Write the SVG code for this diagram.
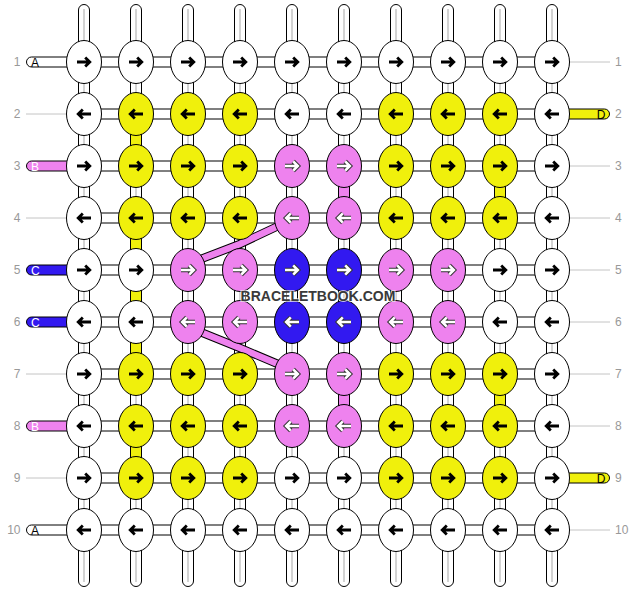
<svg xmlns="http://www.w3.org/2000/svg" xmlns:xlink="http://www.w3.org/1999/xlink" width="636" height="592" viewBox="0 0 636 592">
<style>
.vb{fill:#fff;stroke:#000;stroke-width:1}
.gl{stroke:#c4c4c4;stroke-width:1.5}
.hb{fill:#fff;stroke:#000;stroke-width:1}
.seg{stroke:#000;stroke-width:1}
.n ellipse{stroke:#000;stroke-width:1}
.w{fill:#fff}.y{fill:#f0f00c}.p{fill:#ee82ee}.b{fill:#3219f0}
.lb{font-family:"Liberation Sans",Arial,sans-serif;font-size:12px;fill:#999}
.lt{font-family:"Liberation Sans",Arial,sans-serif;font-size:12px}
.gline{stroke:#c4c4c4;stroke-width:1}
.pill{stroke:#000;stroke-width:1}
.band1{fill:none;stroke:#000;stroke-width:8.5}
.band2{fill:none;stroke:#ee82ee;stroke-width:6.5}
.wm{font-family:"Liberation Sans",Arial,sans-serif;font-size:14px;font-weight:bold;fill:#3a3a3a;stroke:#fff;stroke-opacity:0.7;stroke-width:2;paint-order:stroke}
</style>
<defs>
<path id="ap" d="M-7 0H5.5M1.2-4.6L5.8 0 1.2 4.6" fill="none"/>
<g id="R"><use xlink:href="#ap" href="#ap" stroke="#000" stroke-width="2.8"/></g>
<g id="L"><use xlink:href="#R" href="#R" transform="scale(-1,1)"/></g>
<g id="RW"><use xlink:href="#ap" href="#ap" stroke="#333" stroke-width="4.6"/><use xlink:href="#ap" href="#ap" stroke="#fff" stroke-width="2.6"/></g>
<g id="LW"><use xlink:href="#RW" href="#RW" transform="scale(-1,1)"/></g>
</defs>
<rect width="636" height="592" fill="#fff"/>

<g id="connectors">
<g id="verticals">
<rect class="vb" x="78.5" y="4.5" width="11" height="582" rx="5.5"/>
<rect class="vb" x="130.5" y="4.5" width="11" height="582" rx="5.5"/>
<rect class="vb" x="182.5" y="4.5" width="11" height="582" rx="5.5"/>
<rect class="vb" x="234.5" y="4.5" width="11" height="582" rx="5.5"/>
<rect class="vb" x="286.5" y="4.5" width="11" height="582" rx="5.5"/>
<rect class="vb" x="338.5" y="4.5" width="11" height="582" rx="5.5"/>
<rect class="vb" x="390.5" y="4.5" width="11" height="582" rx="5.5"/>
<rect class="vb" x="442.5" y="4.5" width="11" height="582" rx="5.5"/>
<rect class="vb" x="494.5" y="4.5" width="11" height="582" rx="5.5"/>
<rect class="vb" x="546.5" y="4.5" width="11" height="582" rx="5.5"/>
<line class="gl" x1="84" y1="9" x2="84" y2="582"/>
<line class="gl" x1="136" y1="9" x2="136" y2="582"/>
<line class="gl" x1="188" y1="9" x2="188" y2="582"/>
<line class="gl" x1="240" y1="9" x2="240" y2="582"/>
<line class="gl" x1="292" y1="9" x2="292" y2="582"/>
<line class="gl" x1="344" y1="9" x2="344" y2="582"/>
<line class="gl" x1="396" y1="9" x2="396" y2="582"/>
<line class="gl" x1="448" y1="9" x2="448" y2="582"/>
<line class="gl" x1="500" y1="9" x2="500" y2="582"/>
<line class="gl" x1="552" y1="9" x2="552" y2="582"/>
<rect class="seg y" x="130.5" y="134" width="11" height="12"/>
<rect class="seg y" x="130.5" y="238" width="11" height="12"/>
<rect class="seg y" x="130.5" y="290" width="11" height="12"/>
<rect class="seg y" x="130.5" y="342" width="11" height="12"/>
<rect class="seg y" x="130.5" y="446" width="11" height="12"/>
<rect class="seg y" x="494.5" y="186" width="11" height="12"/>
<rect class="seg y" x="494.5" y="394" width="11" height="12"/>
<rect class="seg p" x="338.5" y="186" width="11" height="12"/>
<rect class="seg p" x="338.5" y="394" width="11" height="12"/>
</g>
<g id="horizontals">
<rect class="hb" x="84" y="57" width="468" height="10"/>
<rect class="hb" x="84" y="109" width="468" height="10"/>
<rect class="hb" x="84" y="161" width="468" height="10"/>
<rect class="hb" x="84" y="213" width="468" height="10"/>
<rect class="hb" x="84" y="265" width="468" height="10"/>
<rect class="hb" x="84" y="317" width="468" height="10"/>
<rect class="hb" x="84" y="369" width="468" height="10"/>
<rect class="hb" x="84" y="421" width="468" height="10"/>
<rect class="hb" x="84" y="473" width="468" height="10"/>
<rect class="hb" x="84" y="525" width="468" height="10"/>
</g>
<g id="side-threads">
<line class="gline" x1="26" y1="114" x2="67" y2="114"/>
<line class="gline" x1="26" y1="218" x2="67" y2="218"/>
<line class="gline" x1="26" y1="374" x2="67" y2="374"/>
<line class="gline" x1="26" y1="478" x2="67" y2="478"/>
<line class="gline" x1="569" y1="62" x2="610" y2="62"/>
<line class="gline" x1="569" y1="166" x2="610" y2="166"/>
<line class="gline" x1="569" y1="218" x2="610" y2="218"/>
<line class="gline" x1="569" y1="270" x2="610" y2="270"/>
<line class="gline" x1="569" y1="322" x2="610" y2="322"/>
<line class="gline" x1="569" y1="374" x2="610" y2="374"/>
<line class="gline" x1="569" y1="426" x2="610" y2="426"/>
<line class="gline" x1="569" y1="530" x2="610" y2="530"/>
<rect class="pill w" x="26.5" y="57" width="50" height="10" rx="5"/>
<rect class="pill p" x="26.5" y="161" width="50" height="10" rx="5"/>
<rect class="pill b" x="26.5" y="265" width="50" height="10" rx="5"/>
<rect class="pill b" x="26.5" y="317" width="50" height="10" rx="5"/>
<rect class="pill p" x="26.5" y="421" width="50" height="10" rx="5"/>
<rect class="pill w" x="26.5" y="525" width="50" height="10" rx="5"/>
<rect class="pill y" x="559.5" y="109" width="50" height="10" rx="5"/>
<rect class="pill y" x="559.5" y="473" width="50" height="10" rx="5"/>
<text class="lt" x="31" y="66.5" fill="#000">A</text>
<text class="lt" x="31" y="170.5" fill="#fff">B</text>
<text class="lt" x="31" y="274.5" fill="#fff">C</text>
<text class="lt" x="31" y="326.5" fill="#fff">C</text>
<text class="lt" x="31" y="430.5" fill="#fff">B</text>
<text class="lt" x="31" y="534.5" fill="#000">A</text>
<text class="lt" x="605.5" y="118.5" fill="#000" text-anchor="end">D</text>
<text class="lt" x="605.5" y="482.5" fill="#000" text-anchor="end">D</text>
</g>
<g id="bands">
<polyline class="band1" points="292,219.5 240,244 188,264"/>
<polyline class="band2" points="292,219.5 240,244 188,264"/>
<polyline class="band1" points="188,327 240,348 292,370"/>
<polyline class="band2" points="188,327 240,348 292,370"/>
</g>
</g>

<g id="row-labels">
<text class="lb" x="20.5" y="66" text-anchor="end">1</text>
<text class="lb" x="20.5" y="118" text-anchor="end">2</text>
<text class="lb" x="20.5" y="170" text-anchor="end">3</text>
<text class="lb" x="20.5" y="222" text-anchor="end">4</text>
<text class="lb" x="20.5" y="274" text-anchor="end">5</text>
<text class="lb" x="20.5" y="326" text-anchor="end">6</text>
<text class="lb" x="20.5" y="378" text-anchor="end">7</text>
<text class="lb" x="20.5" y="430" text-anchor="end">8</text>
<text class="lb" x="20.5" y="482" text-anchor="end">9</text>
<text class="lb" x="20.5" y="534" text-anchor="end">10</text>
<text class="lb" x="615" y="66">1</text>
<text class="lb" x="615" y="118">2</text>
<text class="lb" x="615" y="170">3</text>
<text class="lb" x="615" y="222">4</text>
<text class="lb" x="615" y="274">5</text>
<text class="lb" x="615" y="326">6</text>
<text class="lb" x="615" y="378">7</text>
<text class="lb" x="615" y="430">8</text>
<text class="lb" x="615" y="482">9</text>
<text class="lb" x="615" y="534">10</text>
</g>

<g id="nodes">
<g id="n1-1" class="n" transform="translate(84,62)"><ellipse class="w" rx="17.5" ry="21.5"/><use href="#R"/></g>
<g id="n1-2" class="n" transform="translate(136,62)"><ellipse class="w" rx="17.5" ry="21.5"/><use href="#R"/></g>
<g id="n1-3" class="n" transform="translate(188,62)"><ellipse class="w" rx="17.5" ry="21.5"/><use href="#R"/></g>
<g id="n1-4" class="n" transform="translate(240,62)"><ellipse class="w" rx="17.5" ry="21.5"/><use href="#R"/></g>
<g id="n1-5" class="n" transform="translate(292,62)"><ellipse class="w" rx="17.5" ry="21.5"/><use href="#R"/></g>
<g id="n1-6" class="n" transform="translate(344,62)"><ellipse class="w" rx="17.5" ry="21.5"/><use href="#R"/></g>
<g id="n1-7" class="n" transform="translate(396,62)"><ellipse class="w" rx="17.5" ry="21.5"/><use href="#R"/></g>
<g id="n1-8" class="n" transform="translate(448,62)"><ellipse class="w" rx="17.5" ry="21.5"/><use href="#R"/></g>
<g id="n1-9" class="n" transform="translate(500,62)"><ellipse class="w" rx="17.5" ry="21.5"/><use href="#R"/></g>
<g id="n1-10" class="n" transform="translate(552,62)"><ellipse class="w" rx="17.5" ry="21.5"/><use href="#R"/></g>

<g id="n2-1" class="n" transform="translate(84,114)"><ellipse class="w" rx="17.5" ry="21.5"/><use href="#L"/></g>
<g id="n2-2" class="n" transform="translate(136,114)"><ellipse class="y" rx="17.5" ry="21.5"/><use href="#L"/></g>
<g id="n2-3" class="n" transform="translate(188,114)"><ellipse class="y" rx="17.5" ry="21.5"/><use href="#L"/></g>
<g id="n2-4" class="n" transform="translate(240,114)"><ellipse class="y" rx="17.5" ry="21.5"/><use href="#L"/></g>
<g id="n2-5" class="n" transform="translate(292,114)"><ellipse class="w" rx="17.5" ry="21.5"/><use href="#L"/></g>
<g id="n2-6" class="n" transform="translate(344,114)"><ellipse class="w" rx="17.5" ry="21.5"/><use href="#L"/></g>
<g id="n2-7" class="n" transform="translate(396,114)"><ellipse class="y" rx="17.5" ry="21.5"/><use href="#L"/></g>
<g id="n2-8" class="n" transform="translate(448,114)"><ellipse class="y" rx="17.5" ry="21.5"/><use href="#L"/></g>
<g id="n2-9" class="n" transform="translate(500,114)"><ellipse class="y" rx="17.5" ry="21.5"/><use href="#L"/></g>
<g id="n2-10" class="n" transform="translate(552,114)"><ellipse class="w" rx="17.5" ry="21.5"/><use href="#L"/></g>

<g id="n3-1" class="n" transform="translate(84,166)"><ellipse class="w" rx="17.5" ry="21.5"/><use href="#R"/></g>
<g id="n3-2" class="n" transform="translate(136,166)"><ellipse class="y" rx="17.5" ry="21.5"/><use href="#R"/></g>
<g id="n3-3" class="n" transform="translate(188,166)"><ellipse class="y" rx="17.5" ry="21.5"/><use href="#R"/></g>
<g id="n3-4" class="n" transform="translate(240,166)"><ellipse class="y" rx="17.5" ry="21.5"/><use href="#R"/></g>
<g id="n3-5" class="n" transform="translate(292,166)"><ellipse class="p" rx="17.5" ry="21.5"/><use href="#RW"/></g>
<g id="n3-6" class="n" transform="translate(344,166)"><ellipse class="p" rx="17.5" ry="21.5"/><use href="#RW"/></g>
<g id="n3-7" class="n" transform="translate(396,166)"><ellipse class="y" rx="17.5" ry="21.5"/><use href="#R"/></g>
<g id="n3-8" class="n" transform="translate(448,166)"><ellipse class="y" rx="17.5" ry="21.5"/><use href="#R"/></g>
<g id="n3-9" class="n" transform="translate(500,166)"><ellipse class="y" rx="17.5" ry="21.5"/><use href="#R"/></g>
<g id="n3-10" class="n" transform="translate(552,166)"><ellipse class="w" rx="17.5" ry="21.5"/><use href="#R"/></g>

<g id="n4-1" class="n" transform="translate(84,218)"><ellipse class="w" rx="17.5" ry="21.5"/><use href="#L"/></g>
<g id="n4-2" class="n" transform="translate(136,218)"><ellipse class="y" rx="17.5" ry="21.5"/><use href="#L"/></g>
<g id="n4-3" class="n" transform="translate(188,218)"><ellipse class="y" rx="17.5" ry="21.5"/><use href="#L"/></g>
<g id="n4-4" class="n" transform="translate(240,218)"><ellipse class="y" rx="17.5" ry="21.5"/><use href="#L"/></g>
<g id="n4-5" class="n" transform="translate(292,218)"><ellipse class="p" rx="17.5" ry="21.5"/><use href="#LW"/></g>
<g id="n4-6" class="n" transform="translate(344,218)"><ellipse class="p" rx="17.5" ry="21.5"/><use href="#LW"/></g>
<g id="n4-7" class="n" transform="translate(396,218)"><ellipse class="y" rx="17.5" ry="21.5"/><use href="#L"/></g>
<g id="n4-8" class="n" transform="translate(448,218)"><ellipse class="y" rx="17.5" ry="21.5"/><use href="#L"/></g>
<g id="n4-9" class="n" transform="translate(500,218)"><ellipse class="y" rx="17.5" ry="21.5"/><use href="#L"/></g>
<g id="n4-10" class="n" transform="translate(552,218)"><ellipse class="w" rx="17.5" ry="21.5"/><use href="#L"/></g>

<g id="n5-1" class="n" transform="translate(84,270)"><ellipse class="w" rx="17.5" ry="21.5"/><use href="#R"/></g>
<g id="n5-2" class="n" transform="translate(136,270)"><ellipse class="w" rx="17.5" ry="21.5"/><use href="#R"/></g>
<g id="n5-3" class="n" transform="translate(188,270)"><ellipse class="p" rx="17.5" ry="21.5"/><use href="#RW"/></g>
<g id="n5-4" class="n" transform="translate(240,270)"><ellipse class="p" rx="17.5" ry="21.5"/><use href="#RW"/></g>
<g id="n5-5" class="n" transform="translate(292,270)"><ellipse class="b" rx="17.5" ry="21.5"/><use href="#RW"/></g>
<g id="n5-6" class="n" transform="translate(344,270)"><ellipse class="b" rx="17.5" ry="21.5"/><use href="#RW"/></g>
<g id="n5-7" class="n" transform="translate(396,270)"><ellipse class="p" rx="17.5" ry="21.5"/><use href="#RW"/></g>
<g id="n5-8" class="n" transform="translate(448,270)"><ellipse class="p" rx="17.5" ry="21.5"/><use href="#RW"/></g>
<g id="n5-9" class="n" transform="translate(500,270)"><ellipse class="w" rx="17.5" ry="21.5"/><use href="#R"/></g>
<g id="n5-10" class="n" transform="translate(552,270)"><ellipse class="w" rx="17.5" ry="21.5"/><use href="#R"/></g>

<g id="n6-1" class="n" transform="translate(84,322)"><ellipse class="w" rx="17.5" ry="21.5"/><use href="#L"/></g>
<g id="n6-2" class="n" transform="translate(136,322)"><ellipse class="w" rx="17.5" ry="21.5"/><use href="#L"/></g>
<g id="n6-3" class="n" transform="translate(188,322)"><ellipse class="p" rx="17.5" ry="21.5"/><use href="#LW"/></g>
<g id="n6-4" class="n" transform="translate(240,322)"><ellipse class="p" rx="17.5" ry="21.5"/><use href="#LW"/></g>
<g id="n6-5" class="n" transform="translate(292,322)"><ellipse class="b" rx="17.5" ry="21.5"/><use href="#LW"/></g>
<g id="n6-6" class="n" transform="translate(344,322)"><ellipse class="b" rx="17.5" ry="21.5"/><use href="#LW"/></g>
<g id="n6-7" class="n" transform="translate(396,322)"><ellipse class="p" rx="17.5" ry="21.5"/><use href="#LW"/></g>
<g id="n6-8" class="n" transform="translate(448,322)"><ellipse class="p" rx="17.5" ry="21.5"/><use href="#LW"/></g>
<g id="n6-9" class="n" transform="translate(500,322)"><ellipse class="w" rx="17.5" ry="21.5"/><use href="#L"/></g>
<g id="n6-10" class="n" transform="translate(552,322)"><ellipse class="w" rx="17.5" ry="21.5"/><use href="#L"/></g>

<g id="n7-1" class="n" transform="translate(84,374)"><ellipse class="w" rx="17.5" ry="21.5"/><use href="#R"/></g>
<g id="n7-2" class="n" transform="translate(136,374)"><ellipse class="y" rx="17.5" ry="21.5"/><use href="#R"/></g>
<g id="n7-3" class="n" transform="translate(188,374)"><ellipse class="y" rx="17.5" ry="21.5"/><use href="#R"/></g>
<g id="n7-4" class="n" transform="translate(240,374)"><ellipse class="y" rx="17.5" ry="21.5"/><use href="#R"/></g>
<g id="n7-5" class="n" transform="translate(292,374)"><ellipse class="p" rx="17.5" ry="21.5"/><use href="#RW"/></g>
<g id="n7-6" class="n" transform="translate(344,374)"><ellipse class="p" rx="17.5" ry="21.5"/><use href="#RW"/></g>
<g id="n7-7" class="n" transform="translate(396,374)"><ellipse class="y" rx="17.5" ry="21.5"/><use href="#R"/></g>
<g id="n7-8" class="n" transform="translate(448,374)"><ellipse class="y" rx="17.5" ry="21.5"/><use href="#R"/></g>
<g id="n7-9" class="n" transform="translate(500,374)"><ellipse class="y" rx="17.5" ry="21.5"/><use href="#R"/></g>
<g id="n7-10" class="n" transform="translate(552,374)"><ellipse class="w" rx="17.5" ry="21.5"/><use href="#R"/></g>

<g id="n8-1" class="n" transform="translate(84,426)"><ellipse class="w" rx="17.5" ry="21.5"/><use href="#L"/></g>
<g id="n8-2" class="n" transform="translate(136,426)"><ellipse class="y" rx="17.5" ry="21.5"/><use href="#L"/></g>
<g id="n8-3" class="n" transform="translate(188,426)"><ellipse class="y" rx="17.5" ry="21.5"/><use href="#L"/></g>
<g id="n8-4" class="n" transform="translate(240,426)"><ellipse class="y" rx="17.5" ry="21.5"/><use href="#L"/></g>
<g id="n8-5" class="n" transform="translate(292,426)"><ellipse class="p" rx="17.5" ry="21.5"/><use href="#LW"/></g>
<g id="n8-6" class="n" transform="translate(344,426)"><ellipse class="p" rx="17.5" ry="21.5"/><use href="#LW"/></g>
<g id="n8-7" class="n" transform="translate(396,426)"><ellipse class="y" rx="17.5" ry="21.5"/><use href="#L"/></g>
<g id="n8-8" class="n" transform="translate(448,426)"><ellipse class="y" rx="17.5" ry="21.5"/><use href="#L"/></g>
<g id="n8-9" class="n" transform="translate(500,426)"><ellipse class="y" rx="17.5" ry="21.5"/><use href="#L"/></g>
<g id="n8-10" class="n" transform="translate(552,426)"><ellipse class="w" rx="17.5" ry="21.5"/><use href="#L"/></g>

<g id="n9-1" class="n" transform="translate(84,478)"><ellipse class="w" rx="17.5" ry="21.5"/><use href="#R"/></g>
<g id="n9-2" class="n" transform="translate(136,478)"><ellipse class="y" rx="17.5" ry="21.5"/><use href="#R"/></g>
<g id="n9-3" class="n" transform="translate(188,478)"><ellipse class="y" rx="17.5" ry="21.5"/><use href="#R"/></g>
<g id="n9-4" class="n" transform="translate(240,478)"><ellipse class="y" rx="17.5" ry="21.5"/><use href="#R"/></g>
<g id="n9-5" class="n" transform="translate(292,478)"><ellipse class="w" rx="17.5" ry="21.5"/><use href="#R"/></g>
<g id="n9-6" class="n" transform="translate(344,478)"><ellipse class="w" rx="17.5" ry="21.5"/><use href="#R"/></g>
<g id="n9-7" class="n" transform="translate(396,478)"><ellipse class="y" rx="17.5" ry="21.5"/><use href="#R"/></g>
<g id="n9-8" class="n" transform="translate(448,478)"><ellipse class="y" rx="17.5" ry="21.5"/><use href="#R"/></g>
<g id="n9-9" class="n" transform="translate(500,478)"><ellipse class="y" rx="17.5" ry="21.5"/><use href="#R"/></g>
<g id="n9-10" class="n" transform="translate(552,478)"><ellipse class="w" rx="17.5" ry="21.5"/><use href="#R"/></g>

<g id="n10-1" class="n" transform="translate(84,530)"><ellipse class="w" rx="17.5" ry="21.5"/><use href="#L"/></g>
<g id="n10-2" class="n" transform="translate(136,530)"><ellipse class="w" rx="17.5" ry="21.5"/><use href="#L"/></g>
<g id="n10-3" class="n" transform="translate(188,530)"><ellipse class="w" rx="17.5" ry="21.5"/><use href="#L"/></g>
<g id="n10-4" class="n" transform="translate(240,530)"><ellipse class="w" rx="17.5" ry="21.5"/><use href="#L"/></g>
<g id="n10-5" class="n" transform="translate(292,530)"><ellipse class="w" rx="17.5" ry="21.5"/><use href="#L"/></g>
<g id="n10-6" class="n" transform="translate(344,530)"><ellipse class="w" rx="17.5" ry="21.5"/><use href="#L"/></g>
<g id="n10-7" class="n" transform="translate(396,530)"><ellipse class="w" rx="17.5" ry="21.5"/><use href="#L"/></g>
<g id="n10-8" class="n" transform="translate(448,530)"><ellipse class="w" rx="17.5" ry="21.5"/><use href="#L"/></g>
<g id="n10-9" class="n" transform="translate(500,530)"><ellipse class="w" rx="17.5" ry="21.5"/><use href="#L"/></g>
<g id="n10-10" class="n" transform="translate(552,530)"><ellipse class="w" rx="17.5" ry="21.5"/><use href="#L"/></g>
</g>

<text class="wm" x="318" y="300.5" text-anchor="middle">BRACELETBOOK.COM</text>
</svg>
